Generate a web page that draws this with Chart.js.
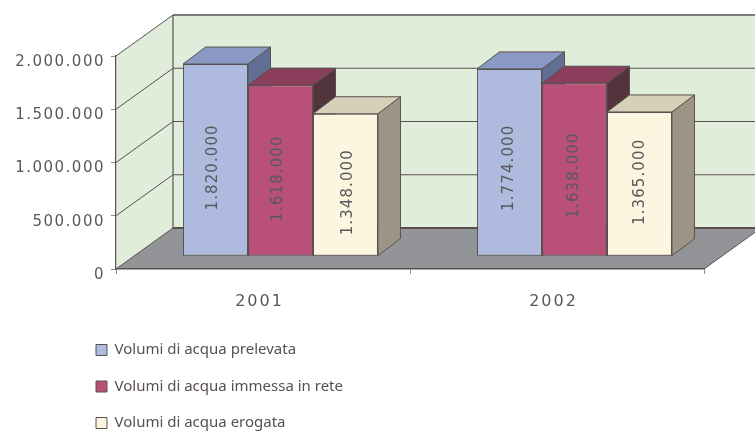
<!DOCTYPE html>
<html>
<head>
<meta charset="utf-8">
<style>html,body{margin:0;padding:0;background:#fff}#w{width:755px;height:431px;position:relative}</style>
<script src="https://cdn.jsdelivr.net/npm/chart.js@4"></script>
</head>
<body>
<div id="w"><canvas id="c" width="755" height="431"></canvas></div>
<script>
const categories = ['2001', '2002'];
const seriesNames = ['Volumi di acqua prelevata', 'Volumi di acqua immessa in rete', 'Volumi di acqua erogata'];
const prelevata = [1820000, 1774000];
const immessa = [1618000, 1638000];
const erogata = [1348000, 1365000];
const yTickLabels = ['0', '500.000', '1.000.000', '1.500.000', '2.000.000'];

const faces = [
  {front:'#aebbdf', top:'#8a99c4', side:'#626f95'},
  {front:'#b85078', top:'#8a3e5c', side:'#54343c'},
  {front:'#fcf5df', top:'#d6d0b8', side:'#9c9484'}
];
const LINE = '#58504f', TEXT = '#58595b', WALL = '#e1eddb', FLOOR = '#929497', TICK = '#8f8c8b';
const WALL_DX = 57, WALL_DY = -41;   // depth of the room
const BAR_DX = 22.5, BAR_DY = -17;   // depth of a bar
const PLANE_DX = 17.5, PLANE_DY = -13.3; // plane the bars stand on
const labelNudgeY = [[7.5, 8, 7.5], [5.5, 6, -2]];
const labelNudgeX = [[-2.5, -2.5, 2.5], [-0.5, -0.5, 1]];
const fmt = v => String(v).replace(/\B(?=(\d{3})+$)/g, '.');

function poly(ctx, pts, fill, stroke, lw) {
  ctx.beginPath();
  pts.forEach((p, i) => i ? ctx.lineTo(p[0], p[1]) : ctx.moveTo(p[0], p[1]));
  ctx.closePath();
  if (fill) { ctx.fillStyle = fill; ctx.fill(); }
  if (stroke) { ctx.strokeStyle = stroke; ctx.lineWidth = lw || 1; ctx.stroke(); }
}
function line(ctx, x1, y1, x2, y2, w, color) {
  ctx.beginPath(); ctx.moveTo(x1, y1); ctx.lineTo(x2, y2);
  ctx.strokeStyle = color || LINE; ctx.lineWidth = w || 1; ctx.stroke();
}

const room3d = {
  id: 'room3d',
  afterLayout(chart) {
    const l = chart.legend;
    const w = l.width, h = l.height;
    l.left = 74.5; l.top = 321; l.right = l.left + w; l.bottom = l.top + h;
  },
  beforeDraw(chart) {
    const ctx = chart.ctx, a = chart.chartArea, ys = chart.scales.y;
    if (!chart.$wrapped) {
      chart.$wrapped = true;
      const shift = s => {
        const orig = s.drawLabels.bind(s);
        const off = s === ys ? [0, 6] : [-3.5, 5];
        s.drawLabels = area => {
          ctx.save();
          ctx.letterSpacing = s === ys ? '1.5px' : '2px';
          ctx.translate(off[0], off[1]);
          orig(area);
          ctx.restore();
        };
      };
      shift(chart.scales.x); shift(ys);
    }
    const L = a.left, R = a.right, T = ys.getPixelForValue(2000000), B = ys.getPixelForValue(0);
    ctx.save();
    poly(ctx, [[L + WALL_DX, T + WALL_DY], [chart.width + 10, T + WALL_DY], [chart.width + 10, B + WALL_DY], [L + WALL_DX, B + WALL_DY]], WALL);
    poly(ctx, [[L, T], [L + WALL_DX, T + WALL_DY], [L + WALL_DX, B + WALL_DY], [L, B]], WALL);
    poly(ctx, [[L, B], [R, B], [R + WALL_DX, B + WALL_DY], [L + WALL_DX, B + WALL_DY]], FLOOR);
    ys.ticks.forEach(t => {
      const y = ys.getPixelForValue(t.value);
      const w = t.value === 0 ? 2 : t.value === 2000000 ? 1.6 : 1;
      line(ctx, L, y, L + WALL_DX, y + WALL_DY, 1, LINE);
      line(ctx, L + WALL_DX, y + WALL_DY, chart.width, y + WALL_DY, w, LINE);
    });
    line(ctx, L + WALL_DX, T + WALL_DY, L + WALL_DX, B + WALL_DY, 1.2, LINE);
    line(ctx, R, B, R + WALL_DX, B + WALL_DY, 1, LINE);
    ctx.restore();
  },
  beforeDatasetsDraw(chart) {
    const ctx = chart.ctx;
    ctx.save();
    ctx.translate(PLANE_DX, PLANE_DY);
    chart.data.datasets.forEach((ds, d) => {
      chart.getDatasetMeta(d).data.forEach(bar => {
        const p = bar.getProps(['x', 'y', 'base', 'width'], true);
        const l = p.x - p.width / 2, r = p.x + p.width / 2;
        poly(ctx, [[r, p.y], [r + BAR_DX, p.y + BAR_DY], [r + BAR_DX, p.base + BAR_DY], [r, p.base]], faces[d].side, LINE, 1);
        poly(ctx, [[l, p.y], [l + BAR_DX, p.y + BAR_DY], [r + BAR_DX, p.y + BAR_DY], [r, p.y]], faces[d].top, LINE, 1);
      });
    });
    ctx.restore();
  },
  beforeDatasetDraw(chart) {
    chart.ctx.save();
    chart.ctx.translate(PLANE_DX, PLANE_DY);
  },
  afterDatasetDraw(chart) {
    chart.ctx.restore();
  },
  afterDatasetsDraw(chart) {
    const ctx = chart.ctx;
    chart.data.datasets.forEach((ds, d) => {
      chart.getDatasetMeta(d).data.forEach((bar, i) => {
        const p = bar.getProps(['x', 'y', 'base'], true);
        ctx.save();
        ctx.translate(p.x + PLANE_DX + labelNudgeX[i][d], (p.y + p.base) / 2 + PLANE_DY + labelNudgeY[i][d]);
        ctx.rotate(-Math.PI / 2);
        ctx.font = '15px "DejaVu Sans"';
        ctx.letterSpacing = '1.1px';
        ctx.fillStyle = TEXT;
        ctx.textAlign = 'center';
        ctx.textBaseline = 'middle';
        ctx.fillText(fmt(ds.data[i]), 0, 0);
        ctx.restore();
      });
    });
  }
};

const seriesValues = [prelevata, immessa, erogata];
new Chart(document.getElementById('c'), {
  type: 'bar',
  plugins: [room3d],
  data: {
    labels: categories,
    datasets: seriesNames.map((name, i) => ({
      label: name,
      data: seriesValues[i],
      yAxisID: 'yBars',
      backgroundColor: faces[i].front,
      borderColor: LINE,
      borderWidth: 1,
      borderSkipped: false,
      clip: false,
      categoryPercentage: 0.663,
      barPercentage: 1
    }))
  },
  options: {
    responsive: false,
    animation: false,
    layout: {padding: {left: 0, right: 51, top: 56, bottom: 0}},
    scales: {
      x: {
        afterFit: s => { s.height = 162; },
        grid: {drawOnChartArea: false, color: TICK, tickLength: 5, offset: true},
        border: {display: true, color: LINE, width: 1.5},
        ticks: {color: TEXT, font: {family: 'DejaVu Sans', size: 16}, padding: 13, maxRotation: 0}
      },
      y: {
        min: 0, max: 2000000,
        afterFit: s => { s.width = 116; },
        grid: {drawOnChartArea: false, color: TICK, tickLength: 5},
        border: {display: true, color: LINE, width: 1.2},
        ticks: {
          stepSize: 500000, color: TEXT, padding: 6,
          font: {family: 'DejaVu Sans', size: 15},
          callback: (v, i) => yTickLabels[i]
        }
      },
      yBars: {display: false, min: 0, max: 2022800}
    },
    plugins: {
      title: {display: false},
      tooltip: {enabled: false},
      legend: {
        position: 'chartArea',
        align: 'start',
        labels: {
          color: LINE, boxWidth: 11, boxHeight: 11, padding: 21.5,
          font: {family: 'Noto Sans', size: 15}
        }
      }
    }
  }
});
</script>
</body>
</html>
